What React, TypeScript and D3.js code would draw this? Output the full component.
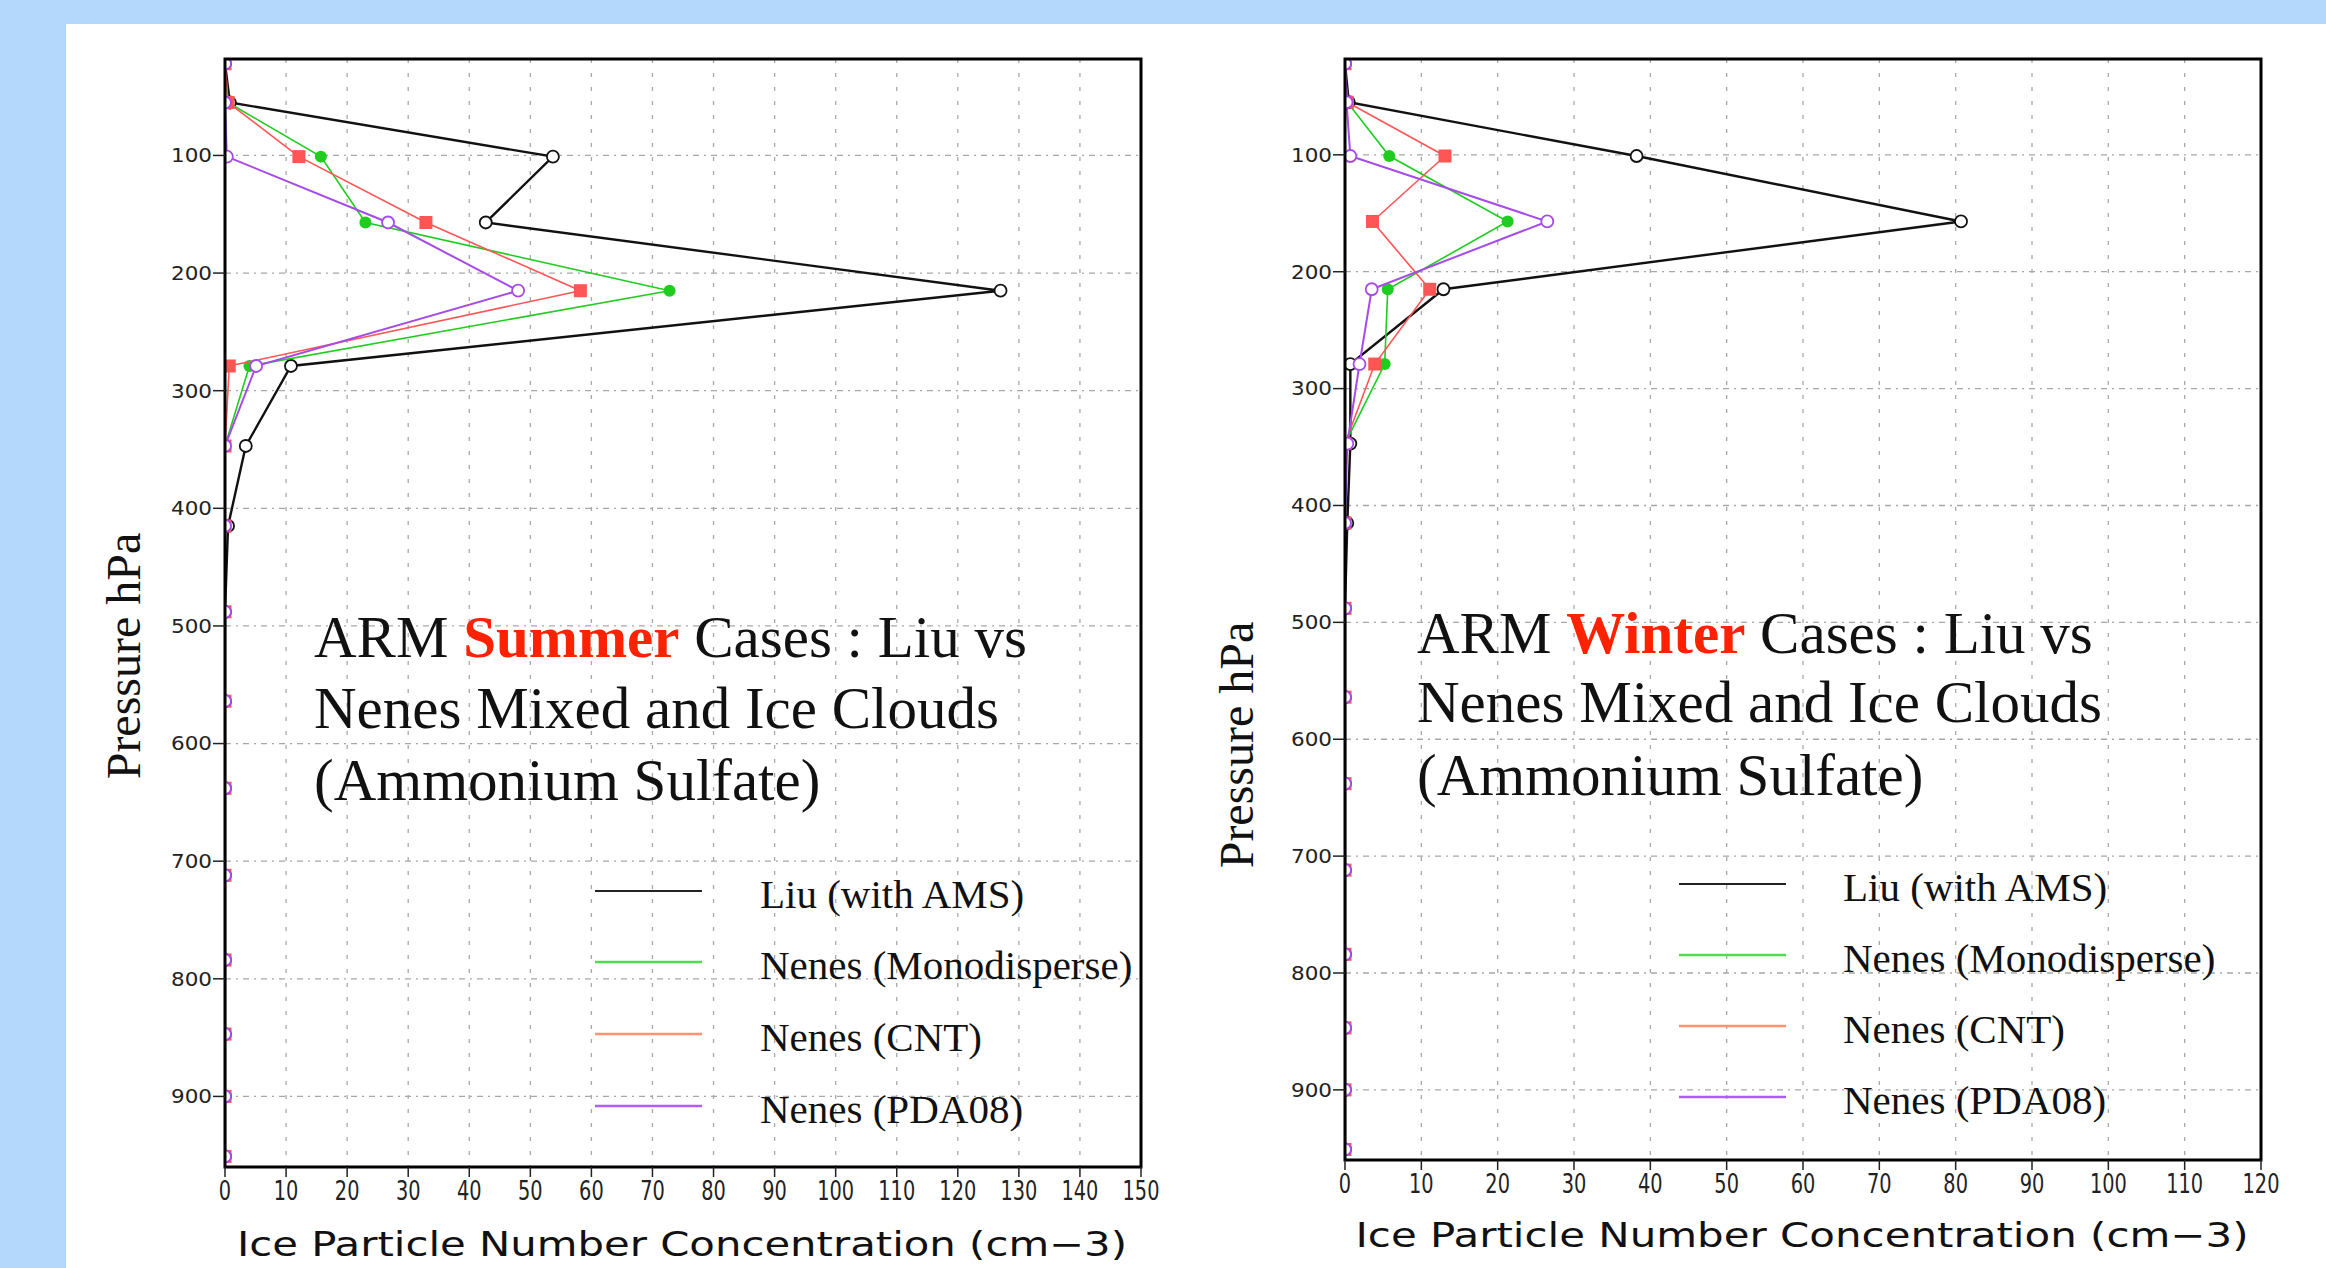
import React from 'react'
import * as d3 from 'd3'

// model levels (hPa) where the profiles are sampled
const levels = [22, 55, 101, 157, 215, 279, 347, 415, 488, 564, 638, 712, 784, 847, 900, 951]

// ARM summer cases, ice number concentration (cm-3)
const summerLiu = [0, 0.8, 53.7, 42.7, 127, 10.8, 3.4, 0.5, 0, 0, 0, 0, 0, 0, 0, 0]
const summerMono = [0, 0.5, 15.7, 23, 72.8, 4, 0, 0, 0, 0, 0, 0, 0, 0, 0, 0]
const summerCnt = [0, 0.5, 12.1, 32.9, 58.2, 0.7, 0, 0, 0, 0, 0, 0, 0, 0, 0, 0]
const summerPda = [0, 0, 0.3, 26.7, 48, 5.1, 0, 0, 0, 0, 0, 0, 0, 0, 0, 0]

// ARM winter cases
const winterLiu = [0, 0.5, 38.2, 80.7, 12.9, 0.7, 0.7, 0.3, 0, 0, 0, 0, 0, 0, 0, 0]
const winterMono = [0, 0.3, 5.8, 21.3, 5.6, 5.2, 0, 0, 0, 0, 0, 0, 0, 0, 0, 0]
const winterCnt = [0, 0.3, 13.1, 3.6, 11.1, 3.9, 0, 0, 0, 0, 0, 0, 0, 0, 0, 0]
const winterPda = [0, 0.2, 0.7, 26.5, 3.5, 1.9, 0.3, 0, 0, 0, 0, 0, 0, 0, 0, 0]

const seriesNames = ['Liu (with AMS)', 'Nenes (Monodisperse)', 'Nenes (CNT)', 'Nenes (PDA08)']
const seriesColors = ['#111111', '#1fcc1f', '#ff5555', '#a64ae8']
const legendColors = ['#222222', '#4fdc4f', '#ff9272', '#ac5ef6']
const markerKinds = ['open', 'dot', 'square', 'open']

const summerTicks = [0, 10, 20, 30, 40, 50, 60, 70, 80, 90, 100, 110, 120, 130, 140, 150]
const winterTicks = [0, 10, 20, 30, 40, 50, 60, 70, 80, 90, 100, 110, 120]
const pressureTicks = [100, 200, 300, 400, 500, 600, 700, 800, 900]
const pressureRange = [18, 960]

const serif = '"Liberation Serif", "Times New Roman", serif'
const sans = '"DejaVu Sans", sans-serif'

type PanelProps = {
    id: string
    series: number[][]
    xTicks: number[]
    left: number
    right: number
    top: number
    bottom: number
    season: string
    textX: number
    textY: number[]
    legendX: number[]
    legendTextX: number
    legendY: number[]
    yTitle: number[]
    xTitle: number[]
}

function Panel(p: PanelProps) {
    const xMax = p.xTicks[p.xTicks.length - 1]
    const x = d3.scaleLinear().domain([0, xMax]).range([p.left, p.right])
    const y = d3.scaleLinear().domain(pressureRange).range([p.top, p.bottom])
    const line = d3.line<number>()
        .x(d => x(d))
        .y((d, i) => y(levels[i]))

    const clipId = `clip-${p.id}`

    return (
        <g>
            <defs>
                <clipPath id={clipId}>
                    <rect x={p.left} y={p.top} width={p.right - p.left} height={p.bottom - p.top} />
                </clipPath>
            </defs>

            {/* grid */}
            {p.xTicks.slice(1, -1).map(t => (
                <line key={`vg${t}`} x1={x(t)} x2={x(t)} y1={p.top} y2={p.bottom}
                    stroke="#a8a8a8" strokeWidth={1.3} strokeDasharray="4,10" />
            ))}
            {pressureTicks.map(t => (
                <line key={`hg${t}`} x1={p.left} x2={p.right} y1={y(t)} y2={y(t)}
                    stroke="#a8a8a8" strokeWidth={1.3} strokeDasharray="6,5,2,5" />
            ))}

            {/* annotation */}
            <text x={p.textX} y={p.textY[0]} fontFamily={serif} fontSize={59} fill="#111">
                <tspan>ARM </tspan>
                <tspan fill="#ff2200" fontWeight="bold">{p.season}</tspan>
                <tspan> Cases : Liu vs</tspan>
            </text>
            <text x={p.textX} y={p.textY[1]} fontFamily={serif} fontSize={59} fill="#111">Nenes Mixed and Ice Clouds</text>
            <text x={p.textX} y={p.textY[2]} fontFamily={serif} fontSize={59} fill="#111">(Ammonium Sulfate)</text>

            {/* legend */}
            {seriesNames.map((name, i) => (
                <g key={name}>
                    <line x1={p.legendX[0]} x2={p.legendX[1]} y1={p.legendY[i]} y2={p.legendY[i]}
                        stroke={legendColors[i]} strokeWidth={i === 0 ? 2 : 2.5} />
                    <text x={p.legendTextX} y={p.legendY[i] + 17} fontFamily={serif} fontSize={41} fill="#111">{name}</text>
                </g>
            ))}

            {/* profiles */}
            <g clipPath={`url(#${clipId})`}>
                {p.series.map((vals, si) => (
                    <g key={`s${si}`}>
                        <path d={line(vals) || ''} fill="none" stroke={seriesColors[si]}
                            strokeWidth={si === 0 ? 2.4 : si === 3 ? 2 : 1.6} />
                        {vals.map((v, i) => {
                            const cx = x(v)
                            const cy = y(levels[i])
                            const kind = markerKinds[si]
                            if (kind === 'square') {
                                return <rect key={i} x={cx - 6.5} y={cy - 6.5} width={13} height={13} fill={seriesColors[si]} />
                            }
                            if (kind === 'dot') {
                                return <circle key={i} cx={cx} cy={cy} r={6} fill={seriesColors[si]} />
                            }
                            return <circle key={i} cx={cx} cy={cy} r={6} fill="#fff" stroke={seriesColors[si]} strokeWidth={1.8} />
                        })}
                    </g>
                ))}
            </g>

            {/* frame */}
            <rect x={p.left} y={p.top} width={p.right - p.left} height={p.bottom - p.top}
                fill="none" stroke="#000" strokeWidth={3} />

            {/* y axis */}
            {pressureTicks.map(t => (
                <g key={`yt${t}`}>
                    <line x1={p.left - 12} x2={p.left} y1={y(t)} y2={y(t)} stroke="#222" strokeWidth={1.5} />
                    <text x={p.left - 13} y={y(t)} dy="0.36em" textAnchor="end" fontFamily={sans} fontSize={19}
                        fill="#222" textLength={41} lengthAdjust="spacingAndGlyphs">{t}</text>
                </g>
            ))}

            {/* x axis */}
            {p.xTicks.map(t => (
                <g key={`xt${t}`}>
                    <line x1={x(t)} x2={x(t)} y1={p.bottom} y2={p.bottom + 10} stroke="#222" strokeWidth={1.5} />
                    <text x={x(t)} y={p.bottom + 33} textAnchor="middle" fontFamily={sans} fontSize={27}
                        fill="#222" textLength={String(t).length * 12.3} lengthAdjust="spacingAndGlyphs">{t}</text>
                </g>
            ))}

            <text x={p.xTitle[0]} y={p.xTitle[1]} textAnchor="middle" fontFamily={sans} fontSize={34}
                fill="#111" textLength={p.xTitle[2]} lengthAdjust="spacingAndGlyphs">Ice Particle Number Concentration (cm−3)</text>

            <text transform={`translate(${p.yTitle[0]},${p.yTitle[1]}) rotate(-90)`} textAnchor="middle"
                fontFamily={serif} fontSize={48} fill="#111">Pressure hPa</text>
        </g>
    )
}

export default function App() {
    document.body.style.margin = '0'
    document.body.style.overflow = 'hidden'

    return (
        <svg width={2326} height={1268} style={{ display: 'block' }}>
            <rect x={0} y={0} width={2326} height={1268} fill="#b3d8fb" />
            <rect x={66} y={24} width={2260} height={1244} fill="#ffffff" />

            <Panel id="summer"
                series={[summerLiu, summerMono, summerCnt, summerPda]}
                xTicks={summerTicks}
                left={225} right={1141} top={59} bottom={1167}
                season="Summer"
                textX={314} textY={[657, 728, 800]}
                legendX={[595, 702]} legendTextX={760} legendY={[891, 962, 1034, 1106]}
                yTitle={[140, 656]}
                xTitle={[682, 1256, 890]}
            />
            <Panel id="winter"
                series={[winterLiu, winterMono, winterCnt, winterPda]}
                xTicks={winterTicks}
                left={1345} right={2261} top={59} bottom={1160}
                season="Winter"
                textX={1417} textY={[653, 722, 795]}
                legendX={[1679, 1786]} legendTextX={1843} legendY={[884, 955, 1026, 1097]}
                yTitle={[1253, 745]}
                xTitle={[1802, 1247, 893]}
            />
        </svg>
    )
}
